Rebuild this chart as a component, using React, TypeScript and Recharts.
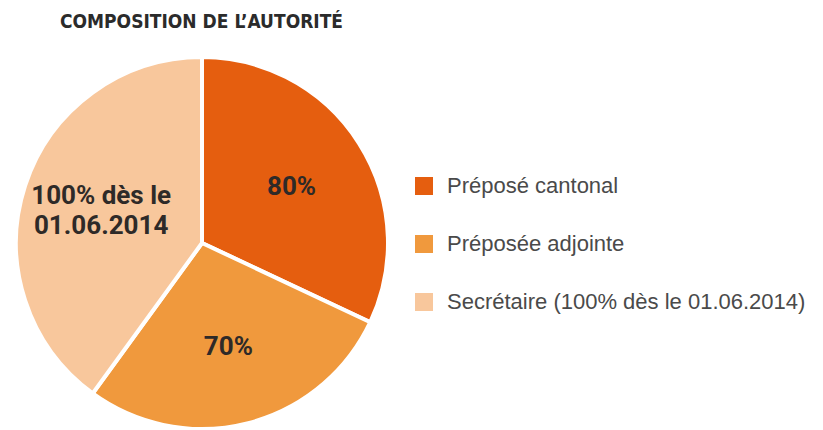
import React from 'react';
import { PieChart, Pie, Cell, Legend } from 'recharts';

const categories = ['Préposé cantonal', 'Préposée adjointe', 'Secrétaire (100% dès le 01.06.2014)'];
const values = [80, 70, 100];
const sliceLabels = [['80%'], ['70%'], ['100% dès le', '01.06.2014']];
const colors = ['#E55E0F', '#F0993D', '#F8C79C'];

const data = categories.map((name, i) => ({ name, value: values[i], lines: sliceLabels[i] }));

const RADIAN = Math.PI / 180;

const renderLabel = (props: any) => {
  const { cx, cy, midAngle, outerRadius, index } = props;
  const r = outerRadius * 0.57;
  const x = cx + r * Math.cos(-midAngle * RADIAN);
  const y = cy + r * Math.sin(-midAngle * RADIAN);
  const lines: string[] = data[index].lines;
  const lh = 30;
  const y0 = y - ((lines.length - 1) * lh) / 2;
  return (
    <text
      x={x}
      y={y0}
      textAnchor="middle"
      dominantBaseline="central"
      fill="#2e2a28"
      fontFamily="Roboto, sans-serif"
      fontWeight="bold"
      fontSize={26}
    >
      {lines.map((l, i) => (
        <tspan key={i} x={x} dy={i === 0 ? 0 : lh}>
          {l}
        </tspan>
      ))}
    </text>
  );
};

const renderLegend = () => (
  <div>
    {data.map((d, i) => (
      <div key={d.name} style={{ display: 'flex', alignItems: 'center', height: 58 }}>
        <div style={{ width: 18, height: 18, background: colors[i], marginRight: 14 }} />
        <span
          style={{
            fontFamily: "'Liberation Sans', Arial, sans-serif",
            fontSize: 22,
            color: '#4a4a4a',
          }}
        >
          {d.name}
        </span>
      </div>
    ))}
  </div>
);

export default function App() {
  return (
    <div style={{ position: 'absolute', left: 0, top: 0, width: 823, height: 430, background: '#fff' }}>
      <div
        style={{
          position: 'absolute',
          left: 60,
          top: 10,
          fontFamily: "'DejaVu Sans', sans-serif",
          fontStretch: 'condensed',
          fontWeight: 'bold',
          fontSize: 19,
          color: '#2b2b2b',
          whiteSpace: 'nowrap',
          zIndex: 2,
        }}
      >
        COMPOSITION DE L’AUTORITÉ
      </div>
      <PieChart width={823} height={430} margin={{ top: 0, right: 0, bottom: 0, left: 0 }}>
        <Pie
          data={data}
          dataKey="value"
          nameKey="name"
          cx={202}
          cy={243}
          outerRadius={186}
          startAngle={90}
          endAngle={-270}
          stroke="#ffffff"
          strokeWidth={4}
          label={renderLabel}
          labelLine={false}
          isAnimationActive={false}
        >
          {data.map((d, i) => (
            <Cell key={d.name} fill={colors[i]} />
          ))}
        </Pie>
        <Legend
          layout="vertical"
          align="right"
          verticalAlign="top"
          content={renderLegend}
          wrapperStyle={{ left: 415, top: 157, width: 400, right: 'auto' }}
        />
      </PieChart>
    </div>
  );
}
